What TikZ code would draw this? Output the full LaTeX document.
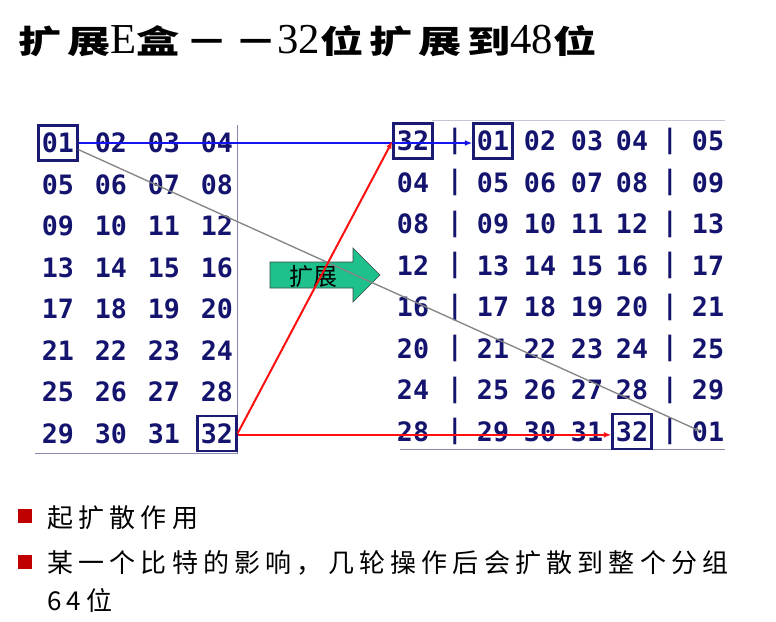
\documentclass[tikz,border=0pt]{standalone}
\usepackage{fontspec}
\setmainfont{Noto Sans CJK SC}
\newfontfamily\titlefont{Noto Sans CJK SC}[FakeStretch=1.35,LetterSpace=18]
\newfontfamily\titlelatin{Liberation Serif}[FakeStretch=1.0]
\newfontfamily\gridfont{DejaVu Sans Mono}
\newfontfamily\notefont{Noto Sans CJK SC}[LetterSpace=20]
\usepackage{tikz}
\usetikzlibrary{arrows.meta,positioning}
\usepackage{xcolor}
\definecolor{CellBlue}{HTML}{14146E}
\definecolor{FrameBlue}{HTML}{1A1A72}
\definecolor{RuleGray}{HTML}{8A8AB0}
\definecolor{RuleLight}{HTML}{C4C4D4}
\definecolor{LinkBlue}{HTML}{1414F0}
\definecolor{LinkRed}{HTML}{FF1010}
\definecolor{LinkGray}{HTML}{858585}
\definecolor{GrowGreen}{HTML}{1EC08E}
\definecolor{GrowEdge}{HTML}{3A4A44}
\definecolor{BulletRed}{HTML}{C00000}
\tikzset{
  cell/.style={font=\gridfont\bfseries\fontsize{20pt}{20pt}\selectfont,text=CellBlue,inner sep=0pt},
  hitbox/.style={draw=FrameBlue,line width=1.8pt,minimum width=29pt,minimum height=26pt,inner sep=0pt},
  gridrule/.style={draw=RuleGray,line width=0.6pt},
  link/.style={-{Latex[length=2mm]},line width=1.5pt},
  growarrow/.style={draw=GrowEdge,fill=GrowGreen,line width=0.5pt},
  bullet/.style={fill=BulletRed,minimum size=10pt,inner sep=0pt},
  note/.style={font=\notefont\fontsize{19.5pt}{28.5pt}\selectfont,align=left,inner sep=0pt}
}
\newcommand{\tlatin}[1]{{\titlelatin\mdseries\fontsize{32pt}{32pt}\selectfont #1}}
\begin{document}
\begin{tikzpicture}[x=0.75pt,y=-0.75pt]
\useasboundingbox[fill=white] (0,0) rectangle (776,622);
\node[anchor=west,inner sep=0pt,font=\titlefont\bfseries\fontsize{24pt}{30pt}\selectfont] (title) at (18,41)
  {扩展\tlatin{E}盒－－\tlatin{32}位扩展到\tlatin{48}位};
% 32-bit block
\draw[gridrule] (237,125) -- (237,453) -- (35,453);
\foreach \r in {0,...,7}{
  \foreach \c in {0,...,3}{
    \pgfmathtruncatemacro{\n}{4*\r+\c+1}
    \node[cell] (l-\r-\c) at (58+53*\c,143+41.5*\r) {\ifnum\n<10 0\fi\n};
  }
}
\node[hitbox] (lfirst) at (l-0-0) {};
\node[hitbox] (llast) at (l-7-3) {};
% 48-bit block
\draw[draw=RuleLight,line width=0.6pt] (432,120) -- (725,120);
\draw[gridrule] (400,449) -- (725,449);
\foreach \r in {0,...,7}{
  \foreach \k/\xx in {0/413,1/493,2/540,3/587,4/632,5/708}{
    \pgfmathtruncatemacro{\n}{mod(4*\r+\k+31,32)+1}
    \node[cell] (r-\r-\k) at (\xx,141+41.5*\r) {\ifnum\n<10 0\fi\n};
  }
  \node[cell] (bar-\r-a) at (455,141+41.5*\r) {|};
  \node[cell] (bar-\r-b) at (670,141+41.5*\r) {|};
}
\node[hitbox] (rfirst) at (r-0-0) {};
\node[hitbox] (rsecond) at (r-0-1) {};
\node[hitbox] (rlast) at (r-7-4) {};
% expand arrow
\draw[growarrow] (270,262) -- (353,262) -- (353,248) -- (380,275) -- (353,302) -- (353,288) -- (270,288) -- cycle;
\node[font=\fontsize{18pt}{18pt}\selectfont,inner sep=0pt] (grow) at (313,276) {扩展};
% connectors
\draw[link,LinkGray,line width=1pt,-{Latex[length=1.5mm]}] ([yshift=-5pt]lfirst.east) -- ([xshift=7pt]r-7-5.west);
\draw[link,LinkBlue] (lfirst.east) -- (lfirst.east -| rsecond.west);
\draw[link,LinkRed] (llast.east) -- (rfirst.west);
\draw[link,LinkRed] ([yshift=-1pt]llast.east) -- ([yshift=-1pt]llast.east -| rlast.west);
% notes
\node[bullet] (b1) at (25,516) {};
\node[note,anchor=base west] (t1) at (47,527) {起扩散作用};
\node[bullet] (b2) at (25,562) {};
\node[note,anchor=base west] (t2) at (47,610) {某一个比特的影响，几轮操作后会扩散到整个分组\\64位};
\end{tikzpicture}
\end{document}
